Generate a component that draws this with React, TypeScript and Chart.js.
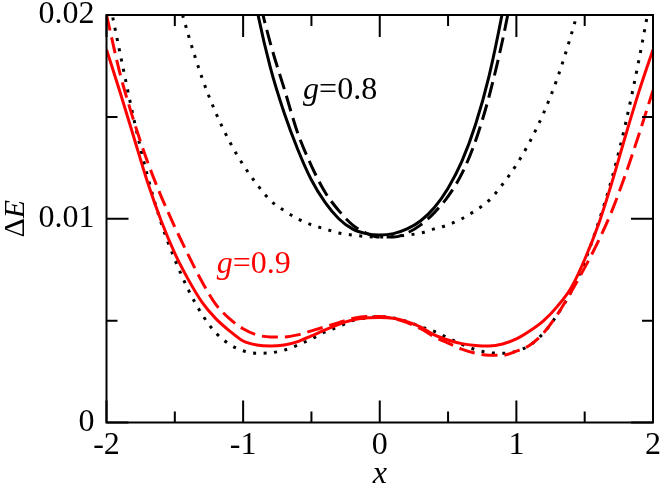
import React, { useEffect, useRef } from 'react';
import { Chart, registerables } from 'chart.js';

Chart.register(...registerables);

// x grid for the g=0.9 curves
const X_FULL = [
  -2.0, -1.9, -1.8, -1.7, -1.6, -1.5, -1.4, -1.3, -1.2, -1.1, -1.0,
  -0.9, -0.8, -0.7, -0.6, -0.5, -0.4, -0.3, -0.2, -0.1, 0.0,
  0.1, 0.2, 0.3, 0.4, 0.5, 0.6, 0.7, 0.8, 0.9, 1.0,
  1.1, 1.2, 1.3, 1.4, 1.5, 1.6, 1.7, 1.8, 1.9, 2.0,
];

// g=0.9, red solid
const RED_SOLID = [
  0.0183, 0.0162, 0.0140, 0.0118, 0.0099, 0.0083, 0.0070, 0.0059, 0.0051, 0.0045, 0.0040,
  0.0038, 0.00375, 0.0038, 0.00397, 0.00425, 0.00455, 0.00482, 0.00503, 0.00513, 0.00515,
  0.00512, 0.00495, 0.00468, 0.0043, 0.00405, 0.00387, 0.00378, 0.00375, 0.00385, 0.0041,
  0.0045, 0.0050, 0.0057, 0.0066, 0.0080, 0.0097, 0.0118, 0.0141, 0.0163, 0.0183,
];

// g=0.9, red dashed
const RED_DASHED = [
  0.0200, 0.0171, 0.0148, 0.0128, 0.0111, 0.0096, 0.0082, 0.0069, 0.0058, 0.0051, 0.0046,
  0.0043, 0.0042, 0.0042, 0.0043, 0.0045, 0.0047, 0.0049, 0.0051, 0.0052, 0.0052,
  0.0051, 0.0049, 0.0046, 0.0042, 0.0039, 0.0036, 0.0034, 0.0033, 0.0033, 0.0035,
  0.0038, 0.0044, 0.0053, 0.0064, 0.0076, 0.0089, 0.0104, 0.0122, 0.0142, 0.0163,
];

// g=0.9, black dotted
const DOT_09 = [
  0.0214, 0.0181, 0.0149, 0.0121, 0.0098, 0.0080, 0.0065, 0.0053, 0.0044, 0.00384, 0.00352,
  0.0034, 0.00342, 0.00355, 0.0038, 0.0041, 0.00445, 0.0047, 0.0050, 0.00513, 0.0052,
  0.00513, 0.00496, 0.0047, 0.00447, 0.00415, 0.00384, 0.00358, 0.00343, 0.0034, 0.0035,
  0.0038, 0.0044, 0.0053, 0.0064, 0.0079, 0.0098, 0.0120, 0.0147, 0.0179, 0.0215,
];

// x grid for g=0.8 solid / dashed
const X_08 = [
  -1.0, -0.9, -0.8, -0.7, -0.6, -0.5, -0.4, -0.3, -0.2, -0.1, 0.0,
  0.1, 0.2, 0.3, 0.4, 0.5, 0.6, 0.7, 0.8, 0.9, 1.0,
];

const BLACK_SOLID = [
  0.0240, 0.0203, 0.0174, 0.0152, 0.0134, 0.0119, 0.0108, 0.0100, 0.0095, 0.00927, 0.0092,
  0.00927, 0.0095, 0.0099, 0.01055, 0.0115, 0.0128, 0.0146, 0.0170, 0.0202, 0.0240,
];

const BLACK_DASHED = [
  0.0248, 0.0213, 0.0186, 0.0164, 0.0142, 0.0126, 0.0113, 0.0104, 0.0097, 0.0093, 0.0091,
  0.0091, 0.0093, 0.0097, 0.0103, 0.0111, 0.0122, 0.0138, 0.0160, 0.0188, 0.0222,
];

// x grid for g=0.8 dotted
const X_08D = [
  -1.6, -1.5, -1.4, -1.3, -1.2, -1.1, -1.0, -0.9, -0.8, -0.7, -0.6, -0.5, -0.4, -0.3, -0.2, -0.1,
  0.0,
  0.1, 0.2, 0.3, 0.4, 0.5, 0.6, 0.7, 0.8, 0.9, 1.0, 1.1, 1.2, 1.3, 1.4, 1.5, 1.6,
];

const DOT_08 = [
  0.0240, 0.0214, 0.0190, 0.0169, 0.0152, 0.0138, 0.01265, 0.0117, 0.0109, 0.0104, 0.0100, 0.0097, 0.0095, 0.0093, 0.0092, 0.00913,
  0.0091,
  0.00913, 0.0092, 0.0093, 0.0095, 0.0097, 0.0100, 0.0104, 0.0109, 0.0117, 0.01265, 0.0138, 0.0152, 0.0169, 0.0190, 0.0214, 0.0240,
];

const X_TICKS = [-2, -1, 0, 1, 2];
const X_TICK_LABELS = ['-2', '-1', '0', '1', '2'];
const X_MINOR = [-1.5, -0.5, 0.5, 1.5];
const Y_TICKS = [0, 0.01, 0.02];
const Y_TICK_LABELS = ['0', '0.01', '0.02'];
const Y_MINOR = [0.005, 0.015];

// curve annotations (data coordinates of the text baseline start)
const NOTE_PREFIX = ['g', 'g'];
const NOTE_TEXT = ['=0.8', '=0.9'];
const NOTE_X = [-0.561, -1.193];
const NOTE_Y = [0.0159, 0.00736];
const NOTE_COLOR = ['#000000', '#ff0000'];

const FONT = "'Liberation Serif'";

const pts = (xs: number[], ys: number[]) => xs.map((x, i) => ({ x, y: ys[i] }));

const framePlugin = {
  id: 'frameTicksText',
  afterDraw(chart: any) {
    const { ctx, chartArea: a, scales } = chart;
    const xs = scales.x;
    const ys = scales.y;
    ctx.save();
    ctx.strokeStyle = '#000';
    ctx.lineWidth = 2;
    ctx.lineCap = 'butt';
    ctx.strokeRect(a.left, a.top, a.right - a.left, a.bottom - a.top);
    ctx.beginPath();
    const major = 22;
    const minor = 11;
    X_TICKS.forEach((v) => {
      const p = xs.getPixelForValue(v);
      ctx.moveTo(p, a.bottom); ctx.lineTo(p, a.bottom - major);
      ctx.moveTo(p, a.top); ctx.lineTo(p, a.top + major);
    });
    X_MINOR.forEach((v) => {
      const p = xs.getPixelForValue(v);
      ctx.moveTo(p, a.bottom); ctx.lineTo(p, a.bottom - minor);
      ctx.moveTo(p, a.top); ctx.lineTo(p, a.top + minor);
    });
    Y_TICKS.forEach((v) => {
      const p = ys.getPixelForValue(v);
      ctx.moveTo(a.left, p); ctx.lineTo(a.left + major, p);
      ctx.moveTo(a.right, p); ctx.lineTo(a.right - major, p);
    });
    Y_MINOR.forEach((v) => {
      const p = ys.getPixelForValue(v);
      ctx.moveTo(a.left, p); ctx.lineTo(a.left + minor, p);
      ctx.moveTo(a.right, p); ctx.lineTo(a.right - minor, p);
    });
    ctx.stroke();

    // annotations
    ctx.textBaseline = 'alphabetic';
    ctx.textAlign = 'left';
    NOTE_TEXT.forEach((t, i) => {
      const px = xs.getPixelForValue(NOTE_X[i]);
      const py = ys.getPixelForValue(NOTE_Y[i]);
      ctx.fillStyle = NOTE_COLOR[i];
      ctx.font = `italic 32px ${FONT}`;
      ctx.fillText(NOTE_PREFIX[i], px, py);
      const w = ctx.measureText(NOTE_PREFIX[i]).width;
      ctx.font = `32px ${FONT}`;
      ctx.fillText(t, px + w, py);
    });

    // x axis title
    ctx.fillStyle = '#000';
    ctx.font = `italic 32px ${FONT}`;
    ctx.textAlign = 'center';
    ctx.fillText('x', (a.left + a.right) / 2, a.bottom + 60);

    // y axis title (rotated): upright Delta, italic E
    ctx.save();
    ctx.translate(a.left - 83, (a.top + a.bottom) / 2);
    ctx.rotate(-Math.PI / 2);
    ctx.textAlign = 'left';
    ctx.font = `30px ${FONT}`;
    const wd = ctx.measureText('\u0394').width;
    ctx.font = `italic 30px ${FONT}`;
    const we = ctx.measureText('E').width;
    const start = -(wd + we) / 2;
    ctx.font = `30px ${FONT}`;
    ctx.fillText('\u0394', start, 0);
    ctx.font = `italic 30px ${FONT}`;
    ctx.fillText('E', start + wd, 0);
    ctx.restore();

    ctx.restore();
  },
};

export default function App() {
  const ref = useRef<HTMLCanvasElement>(null);

  useEffect(() => {
    if (!ref.current) return;
    // warm up the serif faces on the canvas before Chart.js draws
    const wctx = ref.current.getContext('2d');
    if (wctx) {
      ['', 'italic '].forEach((st) => {
        wctx.font = `${st}32px ${FONT}`;
        wctx.measureText('0.02 -2 g x E \u0394');
      });
    }
    const common = { pointRadius: 0, fill: false, cubicInterpolationMode: 'monotone' as const, clip: 0 };
    const chart = new Chart(ref.current, {
      type: 'line',
      data: {
        datasets: [
          { ...common, label: 'g=0.9 solid', data: pts(X_FULL, RED_SOLID), borderColor: '#ff0000', borderWidth: 3 },
          { ...common, label: 'g=0.8 solid', data: pts(X_08, BLACK_SOLID), borderColor: '#000000', borderWidth: 3 },
          { ...common, label: 'g=0.9 dashed', data: pts(X_FULL, RED_DASHED), borderColor: '#ff0000', borderWidth: 3, borderDash: [16, 7] },
          { ...common, label: 'g=0.8 dashed', data: pts(X_08, BLACK_DASHED), borderColor: '#000000', borderWidth: 3, borderDash: [16, 7] },
          { ...common, label: 'g=0.9 dotted', data: pts(X_FULL, DOT_09), borderColor: '#000000', borderWidth: 3, borderDash: [3, 7.5] },
          { ...common, label: 'g=0.8 dotted', data: pts(X_08D, DOT_08), borderColor: '#000000', borderWidth: 3, borderDash: [3, 7.5] },
        ] as any,
      },
      options: {
        animation: false,
        responsive: false,
        maintainAspectRatio: false,
        layout: { padding: { left: 0, top: 15, right: 11, bottom: 0 } },
        plugins: { legend: { display: false }, tooltip: { enabled: false } },
        scales: {
          x: {
            type: 'linear',
            min: -2,
            max: 2,
            grid: { display: false, drawTicks: false },
            border: { display: false },
            afterBuildTicks: (s: any) => { s.ticks = X_TICKS.map((v) => ({ value: v })); },
            afterFit: (s: any) => { s.height = 65.5; s.paddingLeft = 0; s.paddingRight = 0; },
            ticks: {
              color: '#000',
              padding: 4,
              maxRotation: 0,
              autoSkip: false,
              font: { family: FONT, size: 32 },
              callback: (v: any) => X_TICK_LABELS[X_TICKS.indexOf(Number(v))] ?? '',
            },
          },
          y: {
            type: 'linear',
            min: 0,
            max: 0.02,
            grid: { display: false, drawTicks: false },
            border: { display: false },
            afterBuildTicks: (s: any) => { s.ticks = Y_TICKS.map((v) => ({ value: v })); },
            afterFit: (s: any) => { s.width = 106.5; s.paddingTop = 0; s.paddingBottom = 0; },
            ticks: {
              color: '#000',
              padding: 12,
              autoSkip: false,
              font: { family: FONT, size: 32 },
              callback: (v: any) => Y_TICK_LABELS[Y_TICK_LABELS.length ? Y_TICKS.indexOf(Number(v)) : 0] ?? '',
            },
          },
        },
      },
      plugins: [framePlugin],
    });
    const timers = [0, 30, 100, 250, 600].map((ms) => setTimeout(() => { chart.update(); }, ms));
    return () => { timers.forEach(clearTimeout); chart.destroy(); };
  }, []);

  return (
    <div style={{ position: 'fixed', left: 0, top: 0, width: 664, height: 488, background: '#fff' }}>
      <canvas ref={ref} width={664} height={488} style={{ display: 'block', width: 664, height: 488 }} />
    </div>
  );
}
